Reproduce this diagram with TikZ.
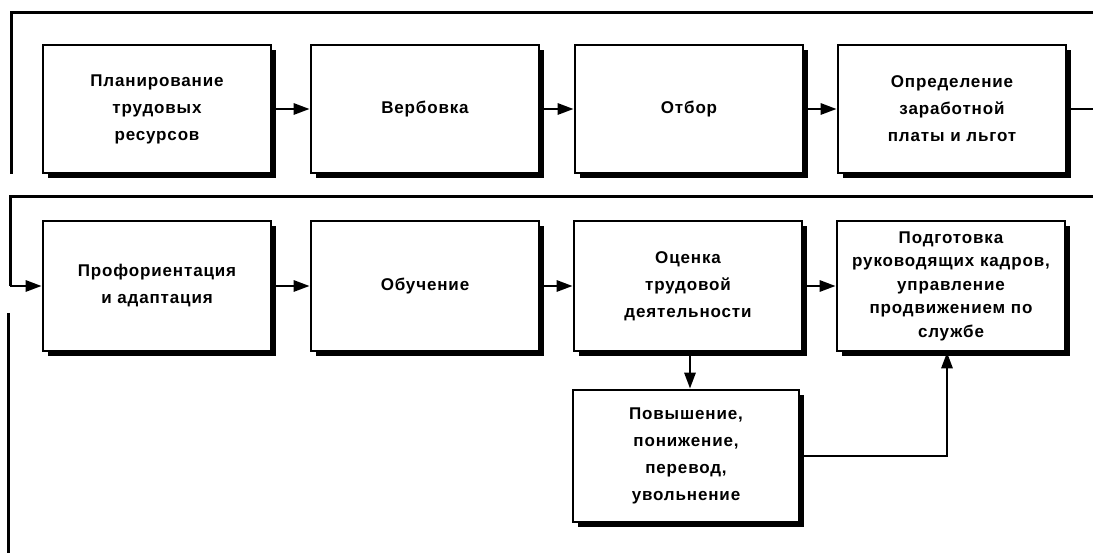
\documentclass[tikz,border=0pt]{standalone}
\usepackage{fontspec}
\setsansfont[LetterSpace=5]{Liberation Sans}
\usetikzlibrary{arrows.meta,shadows}
\begin{document}
\begin{tikzpicture}[x=1pt,y=-1pt,
  box/.style={draw=black,line width=2.6pt,fill=white,rectangle,
    minimum width=228pt,minimum height=128pt,inner sep=2pt,
    align=center,text width=222pt,
    font=\sffamily\bfseries\fontsize{17}{27}\selectfont,
    drop shadow={shadow xshift=5pt,shadow yshift=-5pt,fill=black,opacity=1}},
  frame/.style={line width=3pt,line cap=butt},
  conn/.style={line width=2.8pt,-{Triangle[length=16pt,width=11pt]}},
  plain/.style={line width=2.8pt}]
\useasboundingbox (0,0) rectangle (1093,553);
% top row
\node[box] (b1) at (157,109) {Планирование\\трудовых\\ресурсов};
\node[box] (b2) at (425,109) {Вербовка};
\node[box] (b3) at (689,109) {Отбор};
\node[box] (b4) at (952,109) {Определение\\заработной\\платы и льгот};
% bottom row
\node[box,minimum height=130pt] (c1) at (157,286) {Профориентация\\и адаптация};
\node[box,minimum height=130pt] (c2) at (425,286) {Обучение};
\node[box,minimum height=130pt] (c3) at (688,286) {Оценка\\трудовой\\деятельности};
\node[box,minimum height=130pt,font=\sffamily\bfseries\fontsize{17}{23.5}\selectfont] (c4) at (951,286) {Подготовка\\руководящих кадров,\\управление\\продвижением по\\службе};
\node[box,minimum width=226pt,minimum height=132pt] (d1) at (686,456) {Повышение,\\понижение,\\перевод,\\увольнение};
% frames
\coordinate (tl) at (11,13);
\coordinate (tr) at (1093,13);
\coordinate (tlb) at (11,174);
\coordinate (ml) at (10,197);
\coordinate (mr) at (1093,197);
\coordinate (r4) at (1093,109);
\coordinate (ls1) at (8,313);
\coordinate (ls2) at (8,553);
\draw[frame] (tlb) -- (tl) -- (tr);
\draw[frame] (mr) -- (ml) -- (ml |- c1.west);
\draw[conn] (ml |- c1.west) -- (c1.west);
\draw[frame] (ls1) -- (ls2);
% arrows
\draw[conn] (b1) -- (b2);
\draw[conn] (b2) -- (b3);
\draw[conn] (b3) -- (b4);
\draw[plain] (b4.east) -- (r4);
\draw[conn] (c1) -- (c2);
\draw[conn] (c2) -- (c3);
\draw[conn] (c3) -- (c4);
\draw[conn] ([xshift=2pt]c3.south) coordinate (c3s) -- (c3s |- d1.north);
\draw[conn] (d1.east) -| ([xshift=-4pt]c4.south);
\end{tikzpicture}
\end{document}
